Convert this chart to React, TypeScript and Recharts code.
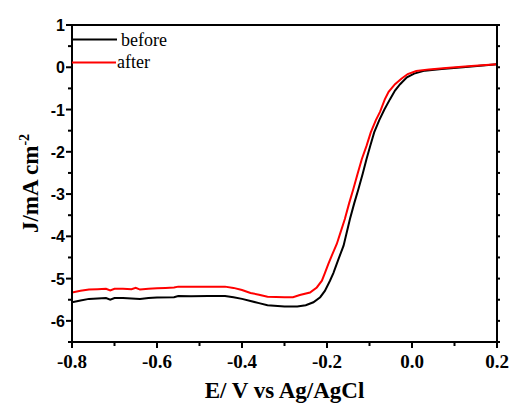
import { Legend, Line, LineChart, XAxis, YAxis } from 'recharts';

const beforeE = [
    -0.8, -0.78, -0.76, -0.74, -0.72, -0.71, -0.7, -0.68, -0.66, -0.64, -0.62, -0.6, -0.56, -0.55, -0.52, -0.48, -0.44,
    -0.42, -0.4, -0.38, -0.36, -0.34, -0.3, -0.27, -0.25, -0.232, -0.216, -0.205, -0.193, -0.185, -0.173, -0.161, -0.155,
    -0.146, -0.136, -0.126, -0.116, -0.107, -0.098, -0.089, -0.077, -0.065, -0.052, -0.04, -0.028, -0.012, 0.005, 0.03,
    0.07, 0.12, 0.2,
];
const beforeJ = [
    -5.56, -5.52, -5.48, -5.47, -5.46, -5.5, -5.46, -5.46, -5.47, -5.48, -5.46, -5.45, -5.44, -5.41, -5.42, -5.41, -5.41,
    -5.44, -5.48, -5.53, -5.58, -5.63, -5.66, -5.66, -5.63, -5.56, -5.44, -5.29, -5.05, -4.87, -4.54, -4.22, -3.97,
    -3.59, -3.22, -2.88, -2.52, -2.17, -1.85, -1.54, -1.25, -1.0, -0.76, -0.55, -0.4, -0.24, -0.15, -0.08, -0.04, 0.0,
    0.07,
];

const afterE = [
    -0.8, -0.78, -0.76, -0.74, -0.72, -0.71, -0.7, -0.68, -0.66, -0.65, -0.64, -0.62, -0.6, -0.58, -0.56, -0.55, -0.52,
    -0.48, -0.44, -0.42, -0.4, -0.38, -0.36, -0.34, -0.3, -0.28, -0.264, -0.24, -0.224, -0.212, -0.205, -0.197, -0.189,
    -0.177, -0.168, -0.158, -0.148, -0.138, -0.128, -0.118, -0.107, -0.097, -0.085, -0.075, -0.064, -0.055, -0.04,
    -0.025, -0.01, 0.01, 0.04, 0.08, 0.14, 0.2,
];
const afterJ = [
    -5.33, -5.29, -5.26, -5.25, -5.24, -5.28, -5.24, -5.24, -5.25, -5.22, -5.26, -5.24, -5.23, -5.22, -5.21, -5.19, -5.19,
    -5.19, -5.19, -5.22, -5.27, -5.34, -5.38, -5.43, -5.44, -5.44, -5.39, -5.33, -5.21, -5.05, -4.87, -4.66, -4.46,
    -4.18, -3.9, -3.59, -3.22, -2.88, -2.52, -2.17, -1.86, -1.54, -1.25, -1.05, -0.76, -0.58, -0.4, -0.27, -0.16, -0.09,
    -0.05, -0.02, 0.03, 0.07,
];

const xTicks = [-0.8, -0.7, -0.6, -0.5, -0.4, -0.3, -0.2, -0.1, 0, 0.1, 0.2];
const yTicks = [-6.5, -6, -5.5, -5, -4.5, -4, -3.5, -3, -2.5, -2, -1.5, -1, -0.5, 0, 0.5, 1];

const seriesNames = ['before', 'after'];
const seriesColors = ['#000000', '#ff0000'];

const beforeData = beforeE.map((e, i) => ({ e, j: beforeJ[i] }));
const afterData = afterE.map((e, i) => ({ e, j: afterJ[i] }));

const serif = '"Liberation Serif", "Times New Roman", serif';
const sans = '"Liberation Sans", Arial, sans-serif';

const isMajorX = (v: number) => Math.round(v * 10) % 2 === 0;
const isMajorY = (v: number) => Number.isInteger(v);

function BottomTick({ x, y, payload }: any) {
    const major = isMajorX(payload.value);
    return (
        <g>
            <line x1={x} x2={x} y1={y} y2={y + (major ? 6 : 4)} stroke="#000" strokeWidth={2} />
            {major && (
                <text x={x} y={y + 26} textAnchor="middle" fontFamily={serif} fontWeight="bold" fontSize={19} fill="#000">
                    {payload.value.toFixed(1)}
                </text>
            )}
        </g>
    );
}

function TopTick({ x, y }: any) {
    return <line x1={x} x2={x} y1={y} y2={y - 3} stroke="#000" strokeWidth={1.5} />;
}

function LeftTick({ x, y, payload }: any) {
    const major = isMajorY(payload.value);
    return (
        <g>
            <line x1={x} x2={x - (major ? 6 : 4)} y1={y} y2={y} stroke="#000" strokeWidth={2} />
            {major && (
                <text x={x - 7} y={y + 6} textAnchor="end" fontFamily={sans} fontWeight="bold" fontSize={16} fill="#000">
                    {String(payload.value)}
                </text>
            )}
        </g>
    );
}

function RightTick({ x, y }: any) {
    return <line x1={x} x2={x + 3} y1={y} y2={y} stroke="#000" strokeWidth={2} />;
}

function YTitle({ viewBox }: any) {
    const cy = viewBox.y + viewBox.height / 2;
    const bx = 38;
    return (
        <text
            x={bx}
            y={cy}
            transform={`rotate(-90, ${bx}, ${cy})`}
            textAnchor="middle"
            fontFamily={serif}
            fontWeight="bold"
            fontSize={23}
            fill="#000"
        >
            J/mA cm
            <tspan dy={-9} fontSize={14}>
                -2
            </tspan>
        </text>
    );
}

function LegendBox() {
    return (
        <svg width={130} height={50} style={{ overflow: 'visible' }}>
            <line x1={0} x2={45} y1={14.5} y2={14.5} stroke={seriesColors[0]} strokeWidth={2} />
            <text x={49} y={20.5} fontFamily={serif} fontSize={18} fill="#000">
                {seriesNames[0]}
            </text>
            <line x1={0} x2={44} y1={37.5} y2={37.5} stroke={seriesColors[1]} strokeWidth={2} />
            <text x={45} y={43} fontFamily={serif} fontSize={18} fill="#000">
                {seriesNames[1]}
            </text>
        </svg>
    );
}

export default function App() {
    return (
        <div style={{ position: 'absolute', left: 0, top: 0, width: 513, height: 410, background: '#fff' }}>
            <LineChart width={513} height={410} margin={{ top: 0, right: 0, bottom: 0, left: 0 }}>
                <XAxis
                    xAxisId="b"
                    dataKey="e"
                    type="number"
                    domain={[-0.8, 0.2]}
                    ticks={xTicks}
                    interval={0}
                    allowDataOverflow
                    height={68}
                    tickSize={0}
                    tickMargin={0}
                    axisLine={{ stroke: '#000', strokeWidth: 2 }}
                    tick={<BottomTick />}
                    label={{
                        value: 'E/ V vs Ag/AgCl',
                        position: 'insideBottom',
                        offset: 12,
                        fontFamily: serif,
                        fontWeight: 'bold',
                        fontSize: 23,
                        fill: '#000',
                    }}
                />
                <XAxis
                    xAxisId="t"
                    orientation="top"
                    type="number"
                    domain={[-0.8, 0.2]}
                    ticks={xTicks}
                    interval={0}
                    allowDataOverflow
                    height={25}
                    tickSize={0}
                    tickMargin={0}
                    axisLine={{ stroke: '#000', strokeWidth: 2 }}
                    tick={<TopTick />}
                />
                <YAxis
                    yAxisId="l"
                    type="number"
                    domain={[-6.5, 1]}
                    ticks={yTicks}
                    interval={0}
                    allowDataOverflow
                    width={72}
                    tickSize={0}
                    tickMargin={0}
                    axisLine={{ stroke: '#000', strokeWidth: 2 }}
                    tick={<LeftTick />}
                    label={<YTitle />}
                />
                <YAxis
                    yAxisId="r"
                    orientation="right"
                    type="number"
                    domain={[-6.5, 1]}
                    ticks={yTicks}
                    interval={0}
                    allowDataOverflow
                    width={16}
                    tickSize={0}
                    tickMargin={0}
                    axisLine={{ stroke: '#000', strokeWidth: 2 }}
                    tick={<RightTick />}
                />
                <Legend
                    layout="horizontal"
                    verticalAlign="middle"
                    align="center"
                    wrapperStyle={{ top: 25, left: 72, width: 130 }}
                    content={<LegendBox />}
                />
                <Line
                    xAxisId="b"
                    yAxisId="l"
                    data={beforeData}
                    dataKey="j"
                    name={seriesNames[0]}
                    type="linear"
                    stroke={seriesColors[0]}
                    strokeWidth={2}
                    dot={false}
                    isAnimationActive={false}
                />
                <Line
                    xAxisId="b"
                    yAxisId="l"
                    data={afterData}
                    dataKey="j"
                    name={seriesNames[1]}
                    type="linear"
                    stroke={seriesColors[1]}
                    strokeWidth={2}
                    dot={false}
                    isAnimationActive={false}
                />
            </LineChart>
        </div>
    );
}
